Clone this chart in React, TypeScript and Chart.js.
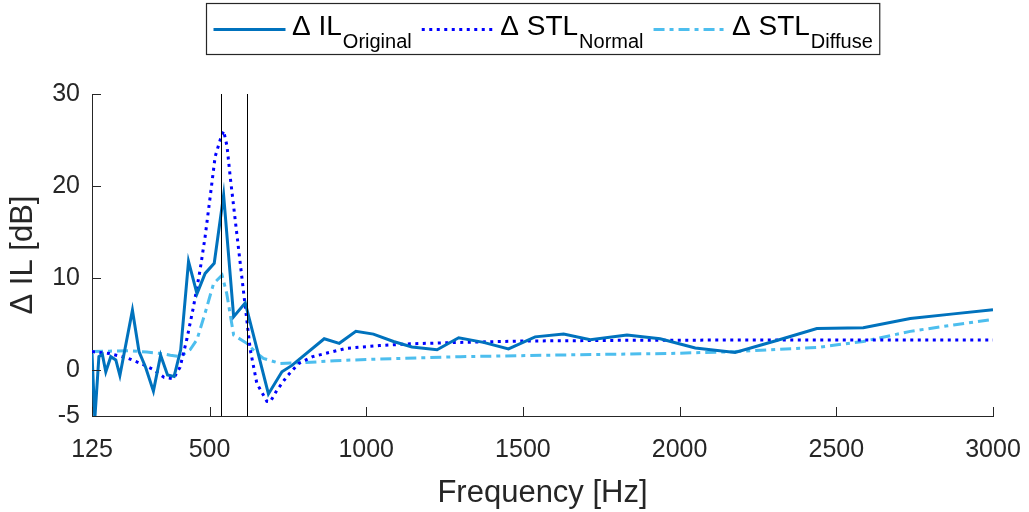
import React, { useEffect, useRef } from "react";
import { Chart, registerables } from "chart.js";

Chart.register(...registerables);

// ---- data ----
const freqOriginal = [125, 134, 147, 158, 169, 185, 201, 214, 254, 275, 296, 321, 344, 366, 387, 408, 433, 460, 486, 515, 545, 577, 614, 688, 731, 763, 866, 914, 967, 1023, 1087, 1146, 1226, 1295, 1374, 1454, 1539, 1630, 1715, 1832, 1938, 2050, 2177, 2310, 2438, 2586, 2736, 2874, 3000];
const ilOriginal = [1.8, -5.3, 1.45, 1.7, -0.2, 1.45, 1.1, -0.6, 6.5, 2.0, 0.3, -2.3, 1.6, -0.55, -0.7, 2.2, 11.8, 8.3, 10.5, 11.6, 19.0, 5.8, 7.3, -2.6, -0.2, 0.5, 3.4, 2.9, 4.2, 3.9, 3.1, 2.5, 2.2, 3.5, 3.0, 2.3, 3.6, 3.9, 3.3, 3.8, 3.4, 2.4, 1.9, 3.2, 4.5, 4.6, 5.6, 6.1, 6.55];

const freqNormal = [125, 180, 238, 285, 323, 355, 385, 406, 428, 449, 470, 486, 502, 518, 534, 545, 556, 566, 582, 598, 614, 630, 651, 683, 694, 715, 747, 784, 829, 935, 1042, 1140, 1300, 1500, 1800, 2200, 3000];
const stlNormal = [2.0, 1.8, 1.3, 0.65, 0.0, -0.8, -0.95, 0.3, 3.4, 6.9, 10.9, 14.5, 18.8, 23.2, 25.0, 26.0, 24.3, 21.0, 16.3, 11.6, 6.9, 2.2, -1.45, -3.4, -3.45, -2.2, -0.7, 0.7, 1.45, 2.35, 2.65, 2.85, 3.0, 3.15, 3.22, 3.26, 3.26];

const freqDiffuse = [125, 180, 240, 300, 345, 375, 406, 438, 460, 486, 513, 540, 555, 577, 619, 645, 672, 725, 800, 900, 1000, 1300, 1620, 1970, 2177, 2438, 2586, 2736, 2874, 3000];
const stlDiffuse = [2.0, 2.05, 2.1, 1.95, 1.8, 1.6, 1.45, 2.2, 3.3, 6.2, 9.4, 10.3, 8.3, 3.8, 2.9, 2.0, 1.27, 0.7, 0.8, 1.0, 1.15, 1.45, 1.63, 1.8, 2.0, 2.45, 3.1, 4.2, 4.9, 5.5];

const markerFreqs = [538, 620];
const xTicks = [125, 500, 1000, 1500, 2000, 2500, 3000];
const yTicks = [-5, 0, 10, 20, 30];

const seriesMain = ["\u0394 IL", "\u0394 STL", "\u0394 STL"];
const seriesSub = ["Original", "Normal", "Diffuse"];

const FONT = '"Liberation Sans", Arial, Helvetica, sans-serif';
const TEXT = "#262626";
const COLORS = ["#0072BD", "#0000FF", "#4DBEEE"];
const DASHES: number[][] = [[], [3, 4.5], [11, 5, 4, 5]];

const toPts = (xs: number[], ys: number[]) => xs.map((x, i) => ({ x, y: ys[i] }));

const overlayPlugin = {
  id: "overlay",
  afterDatasetsDraw(chart: any) {
    const { ctx, chartArea: a, scales } = chart;
    const xs = scales.x;
    const ys = scales.y;
    ctx.save();
    // vertical marker lines
    ctx.strokeStyle = "#000000";
    ctx.lineWidth = 1;
    markerFreqs.forEach((f) => {
      const px = Math.round(xs.getPixelForValue(f)) + 0.5;
      ctx.beginPath();
      ctx.moveTo(px, a.top);
      ctx.lineTo(px, a.bottom);
      ctx.stroke();
    });
    // inward ticks
    ctx.strokeStyle = TEXT;
    const tl = 9;
    xs.ticks.forEach((t: any) => {
      const px = Math.round(xs.getPixelForValue(t.value)) + 0.5;
      ctx.beginPath();
      ctx.moveTo(px, a.bottom);
      ctx.lineTo(px, a.bottom - tl);
      ctx.stroke();
    });
    ys.ticks.forEach((t: any) => {
      const py = Math.round(ys.getPixelForValue(t.value)) + 0.5;
      ctx.beginPath();
      ctx.moveTo(a.left, py);
      ctx.lineTo(a.left + tl, py);
      ctx.stroke();
    });
    ctx.restore();
  },
  afterDraw(chart: any) {
    const { ctx, chartArea: a } = chart;
    const mainFont = `28px ${FONT}`;
    const subFont = `20px ${FONT}`;
    const padX = 7;
    const sampleLen = 72;
    const sampleGap = 6.5;
    const itemGap = 10;
    ctx.save();
    const widths = seriesMain.map((m, i) => {
      ctx.font = mainFont;
      const mw = ctx.measureText(m).width;
      ctx.font = subFont;
      const sw = ctx.measureText(seriesSub[i]).width;
      return { mw, sw };
    });
    let total = padX * 2 + itemGap * (seriesMain.length - 1);
    widths.forEach((w) => (total += sampleLen + sampleGap + w.mw + w.sw + 1));
    const cx = (a.left + a.right) / 2;
    const left = Math.round(cx - total / 2) + 0.5;
    const top = 3.5;
    const h = 51;
    ctx.fillStyle = "#ffffff";
    ctx.fillRect(left, top, total, h);
    ctx.strokeStyle = TEXT;
    ctx.lineWidth = 1.2;
    ctx.strokeRect(left, top, total, h);
    let x = left + padX;
    const lineY = 29.5;
    widths.forEach((w, i) => {
      ctx.save();
      ctx.strokeStyle = COLORS[i];
      ctx.lineWidth = 3;
      ctx.setLineDash(DASHES[i]);
      ctx.beginPath();
      ctx.moveTo(x, lineY);
      ctx.lineTo(x + sampleLen, lineY);
      ctx.stroke();
      ctx.restore();
      x += sampleLen + sampleGap;
      ctx.fillStyle = "#000000";
      ctx.textBaseline = "alphabetic";
      ctx.textAlign = "left";
      ctx.font = mainFont;
      ctx.fillText(seriesMain[i], x, 35);
      x += w.mw + 1;
      ctx.font = subFont;
      ctx.fillText(seriesSub[i], x, 47.5);
      x += w.sw + itemGap;
    });
    ctx.restore();
  },
};

export default function App() {
  const ref = useRef<HTMLCanvasElement | null>(null);
  useEffect(() => {
    if (!ref.current) return;
    Chart.defaults.font.family = FONT;
    Chart.defaults.color = TEXT;
    const chart = new Chart(ref.current, {
      type: "line",
      data: {
        datasets: [
          { label: seriesMain[0] + seriesSub[0], data: toPts(freqOriginal, ilOriginal), borderColor: COLORS[0], borderWidth: 3, borderDash: DASHES[0], pointRadius: 0, tension: 0, fill: false },
          { label: seriesMain[1] + seriesSub[1], data: toPts(freqNormal, stlNormal), borderColor: COLORS[1], borderWidth: 3, borderDash: DASHES[1], pointRadius: 0, tension: 0, fill: false },
          { label: seriesMain[2] + seriesSub[2], data: toPts(freqDiffuse, stlDiffuse), borderColor: COLORS[2], borderWidth: 3, borderDash: DASHES[2], pointRadius: 0, tension: 0, fill: false },
        ],
      },
      options: {
        animation: false,
        responsive: true,
        maintainAspectRatio: false,
        layout: { padding: { top: 94, right: 36, left: 0, bottom: 0 } },
        plugins: { legend: { display: false }, tooltip: { enabled: false } },
        scales: {
          x: {
            type: "linear",
            min: 125,
            max: 3000,
            afterBuildTicks: (s: any) => { s.ticks = xTicks.map((v) => ({ value: v })); },
            afterFit: (s: any) => { s.height = 96; s.paddingLeft = 0; s.paddingRight = 0; },
            ticks: { font: { size: 25 }, color: TEXT, padding: 19, maxRotation: 0, autoSkip: false, callback: (v: any) => String(v) },
            grid: { display: false, drawTicks: false },
            border: { display: true, color: TEXT, width: 1 },
            title: { display: true, text: "Frequency [Hz]", font: { size: 31 }, color: TEXT, padding: 0 },
          },
          y: {
            type: "linear",
            min: -5,
            max: 30,
            afterBuildTicks: (s: any) => { s.ticks = yTicks.map((v) => ({ value: v })); },
            afterFit: (s: any) => { s.width = 92; s.paddingTop = 0; s.paddingBottom = 0; },
            ticks: { font: { size: 25 }, color: TEXT, padding: 12, autoSkip: false, callback: (v: any) => String(v) },
            grid: { display: false, drawTicks: false },
            border: { display: true, color: TEXT, width: 1 },
            title: { display: true, text: "\u0394 IL [dB]", font: { size: 31 }, color: TEXT, padding: { top: 5, bottom: 0 } },
          },
        },
      },
      plugins: [overlayPlugin],
    } as any);
    return () => chart.destroy();
  }, []);
  return (
    <div style={{ position: "fixed", left: 0, top: 0, width: 1029, height: 512, background: "#ffffff" }}>
      <canvas ref={ref} />
    </div>
  );
}
